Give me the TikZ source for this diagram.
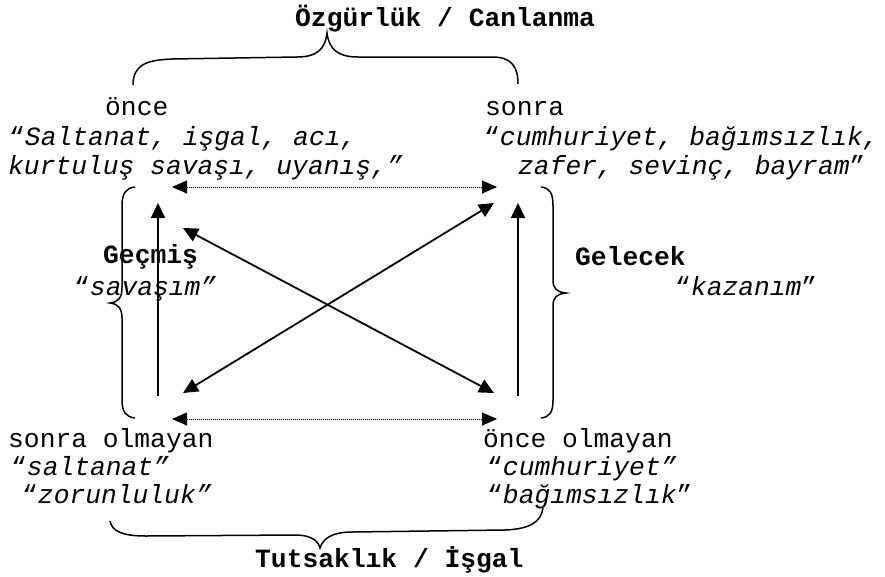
\documentclass[tikz,border=0pt]{standalone}
\usepackage{fontspec}
\setmonofont{Liberation Mono}
\usetikzlibrary{arrows.meta}
\begin{document}
\begin{tikzpicture}[x=1pt,y=-1pt,
  txt/.style={anchor=base west,inner sep=0pt,font=\ttfamily\fontsize{26.3}{29.7}\selectfont},
  btxt/.style={txt,font=\ttfamily\bfseries\fontsize{26.3}{29.7}\selectfont},
  solidarr/.style={line width=1.8pt,{Triangle[length=15pt,width=14pt]}-{Triangle[length=15pt,width=14pt]}},
  uparr/.style={line width=1.8pt,-{Triangle[length=15pt,width=14pt]}},
  dotarr/.style={line width=0.9pt,dash pattern=on 0.9pt off 1.1pt,{Triangle[length=15pt,width=13pt]}-{Triangle[length=15pt,width=13pt]}},
  bracepath/.style={line width=1.5pt}]
\useasboundingbox (0,0) rectangle (885,576);
% titles
\node[btxt] (ttop) at (295,26) {Özgürlük / Canlanma};
\node[btxt] (tbot) at (255,567) {Tutsaklık / İşgal};
% top left
\node[txt] (tl1) at (105,115) {önce};
\node[txt] (tl2) at (9,145) {“\textit{Saltanat, işgal, acı,}};
\node[txt] (tl3) at (8,174) {\textit{kurtuluş savaşı, uyanış,”}};
% top right
\node[txt] (tr1) at (485,115) {sonra};
\node[txt] (tr2) at (484,145) {“\textit{cumhuriyet, bağımsızlık,}};
\node[txt] (tr3) at (518,174) {\textit{zafer, sevinç, bayram}”};
% bottom left
\node[txt] (bl1) at (8,447) {sonra olmayan};
\node[txt] (bl2) at (11,475) {“\textit{saltanat”}};
\node[txt] (bl3) at (22,503) {“\textit{zorunluluk”}};
% bottom right
\node[txt] (br1) at (483,447) {önce olmayan};
\node[txt] (br2) at (487,475) {“\textit{cumhuriyet”}};
\node[txt] (br3) at (487,503) {“\textit{bağımsızlık}”};
% side labels
\node[btxt] (gec) at (103,263) {Geçmiş};
\node[txt] (gecq) at (74,295) {“\textit{savaşım”}};
\node[btxt] (gel) at (575,265) {Gelecek};
\node[txt] (gelq) at (675,295) {“\textit{kazanım}”};
% arrow end points
\coordinate (dtl) at (172,187);
\coordinate (dtr) at (497,187);
\coordinate (dbl) at (172,419);
\coordinate (dbr) at (497,419);
\coordinate (vlb) at (158,396);
\coordinate (vlt) at (158,203);
\coordinate (vrb) at (518,396);
\coordinate (vrt) at (518,203);
\coordinate (aur) at (494,203);
\coordinate (abl) at (183,393);
\coordinate (aul) at (183,228);
\coordinate (abr) at (494,393);
% arrows
\draw[dotarr] (dtl) -- (dtr);
\draw[dotarr] (dbl) -- (dbr);
\draw[uparr] (vlb) -- (vlt);
\draw[uparr] (vrb) -- (vrt);
\draw[solidarr] (abl) -- (aur);
\draw[solidarr] (aul) -- (abr);
% braces
\draw[bracepath] (133,85) .. controls (133,64) and (148,60) .. (172,59) -- (297,57)
  .. controls (316,57) and (325,50) .. (327,33)
  .. controls (329,50) and (339,57) .. (358,57) -- (492,57)
  .. controls (511,57) and (518,66) .. (518,84);
\draw[bracepath] (110,521) .. controls (112,532) and (124,536) .. (146,536) -- (295,535)
  .. controls (310,535) and (318,540) .. (320,548)
  .. controls (323,538) and (333,532) .. (352,532) -- (505,530)
  .. controls (530,529) and (541,522) .. (543,508);
\draw[bracepath] (135,187) .. controls (126,188) and (122,193) .. (122,206) -- (122,288)
  .. controls (122,298) and (118,302) .. (110,303)
  .. controls (118,304) and (122,308) .. (122,318) -- (122,400)
  .. controls (122,412) and (126,417) .. (135,418);
\draw[bracepath] (541,187) .. controls (550,188) and (553,193) .. (553,206) -- (553,280)
  .. controls (553,289) and (557,292) .. (566,293)
  .. controls (557,294) and (553,297) .. (553,306) -- (553,400)
  .. controls (553,412) and (550,417) .. (541,418);
\end{tikzpicture}
\end{document}
